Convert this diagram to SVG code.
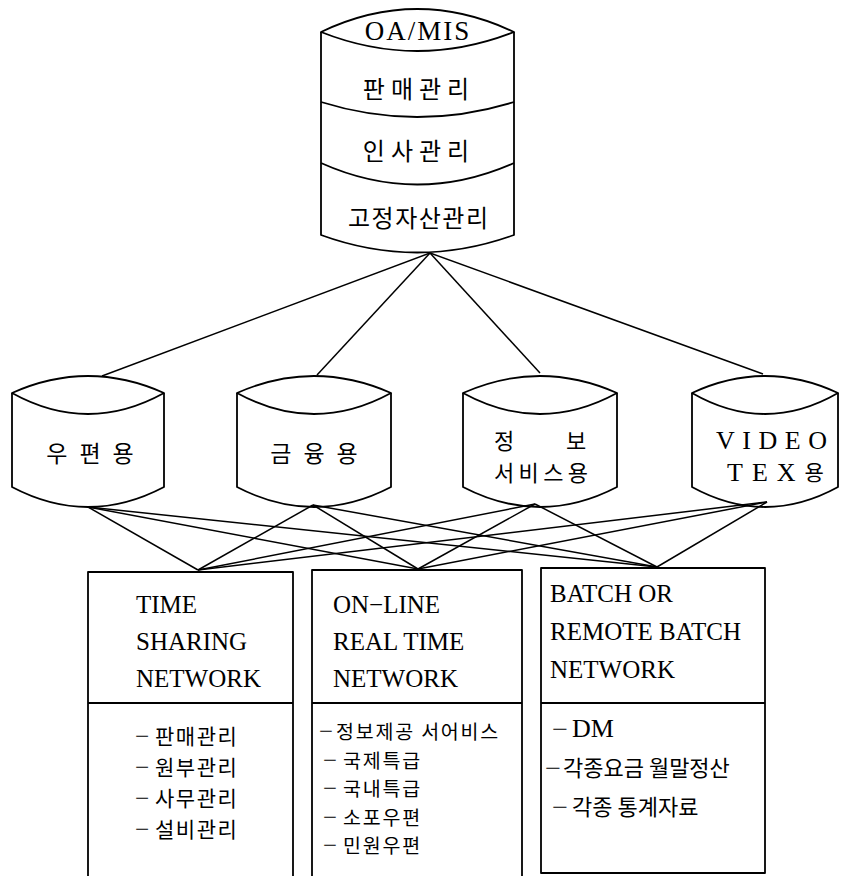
<svg xmlns="http://www.w3.org/2000/svg" width="841" height="876" viewBox="0 0 841 876">
<style>
.s{fill:none;stroke:#000;stroke-width:1.8;stroke-linejoin:round}
.c{fill:none;stroke:#000;stroke-width:1.5}
.t{font-family:"Liberation Serif","Noto Sans CJK KR",serif;fill:#000}
.k{font-family:"Noto Sans CJK KR","Liberation Serif",sans-serif;fill:#000}
.d{font-family:"Liberation Serif",serif;font-size:24px}
.m{text-anchor:middle}
</style>
<rect width="841" height="876" fill="#fff"/>
<g id="oa-mis">
<path class="s" d="M321,32 Q417,-14 514,32 Q417,70 321,32 Z"/>
<path class="s" d="M321,32 L321,235 Q417,270 514,235 L514,32"/>
<path class="s" d="M321,102 Q417,132 514,102"/>
<path class="s" d="M321,163 Q417,206 514,163"/>
<text class="t m" x="418" y="40" font-size="27" letter-spacing="2">OA/MIS</text>
<text class="k m" x="419" y="98" font-size="24" letter-spacing="6">판매관리</text>
<text class="k m" x="419" y="160" font-size="24" letter-spacing="6">인사관리</text>
<text class="k" x="348" y="227" font-size="24" textLength="140">고정자산관리</text>
</g>
<g id="postal">
<path class="s" d="M12,393 Q88,359 164,393 Q88,435 12,393 Z"/>
<path class="s" d="M12,393 L12,487 Q88,527 164,487 L164,393"/>
<text class="k m" x="96" y="462" font-size="23" letter-spacing="12">우편용</text>
</g>
<g id="finance">
<path class="s" d="M237,393 Q314,359 391,393 Q314,435 237,393 Z"/>
<path class="s" d="M237,393 L237,487 Q314,527 391,487 L391,393"/>
<text class="k m" x="320" y="462" font-size="23" letter-spacing="12">금융용</text>
</g>
<g id="info">
<path class="s" d="M463,393 Q540,359 617,393 Q540,435 463,393 Z"/>
<path class="s" d="M463,393 L463,487 Q540,527 617,487 L617,393"/>
<text class="k" font-size="22"><tspan x="494" y="449">정</tspan><tspan x="566" y="449">보</tspan><tspan x="494" y="481" textLength="94">서비스용</tspan></text>
</g>
<g id="videotex">
<path class="s" d="M692,393 Q765,359 838,393 Q765,435 692,393 Z"/>
<path class="s" d="M692,393 L692,487 Q765,527 838,487 L838,393"/>
<text class="t" font-size="26"><tspan x="716" y="449" textLength="111">VIDEO</tspan><tspan x="727" y="481" letter-spacing="9">TEX</tspan><tspan class="k" font-size="21" dy="-1">용</tspan></text>
</g>
<g id="connectors">
<line class="c" x1="430" y1="253" x2="102" y2="376"/>
<line class="c" x1="430" y1="253" x2="317" y2="375"/>
<line class="c" x1="430" y1="253" x2="540" y2="373"/>
<line class="c" x1="430" y1="253" x2="763" y2="374"/>
<line class="c" x1="88" y1="507" x2="198" y2="570"/>
<line class="c" x1="88" y1="507" x2="418" y2="569"/>
<line class="c" x1="88" y1="507" x2="657" y2="567"/>
<line class="c" x1="313" y1="505" x2="198" y2="570"/>
<line class="c" x1="313" y1="505" x2="418" y2="569"/>
<line class="c" x1="313" y1="505" x2="657" y2="567"/>
<line class="c" x1="535" y1="504" x2="198" y2="570"/>
<line class="c" x1="535" y1="504" x2="418" y2="569"/>
<line class="c" x1="535" y1="504" x2="657" y2="567"/>
<line class="c" x1="767" y1="502" x2="198" y2="570"/>
<line class="c" x1="767" y1="502" x2="418" y2="569"/>
<line class="c" x1="767" y1="502" x2="657" y2="567"/>
</g>
<g id="time-sharing">
<path class="s" d="M88,880 L88,572 L293,572 L293,880"/>
<line class="s" x1="88" y1="703" x2="293" y2="703"/>
<text class="t" x="136" y="613" font-size="25">TIME</text>
<text class="t" x="136" y="650" font-size="25">SHARING</text>
<text class="t" x="136" y="687" font-size="25">NETWORK</text>
<text class="k" x="135" y="744" font-size="21" letter-spacing="1.5"><tspan class="d" textLength="16" lengthAdjust="spacingAndGlyphs">−</tspan><tspan dx="4">판매관리</tspan></text>
<text class="k" x="135" y="775" font-size="21" letter-spacing="1.5"><tspan class="d" textLength="16" lengthAdjust="spacingAndGlyphs">−</tspan><tspan dx="4">원부관리</tspan></text>
<text class="k" x="135" y="806" font-size="21" letter-spacing="1.5"><tspan class="d" textLength="16" lengthAdjust="spacingAndGlyphs">−</tspan><tspan dx="4">사무관리</tspan></text>
<text class="k" x="135" y="837" font-size="21" letter-spacing="1.5"><tspan class="d" textLength="16" lengthAdjust="spacingAndGlyphs">−</tspan><tspan dx="4">설비관리</tspan></text>
</g>
<g id="online">
<path class="s" d="M312,880 L312,570 L522,570 L522,880"/>
<line class="s" x1="312" y1="703" x2="522" y2="703"/>
<text class="t" x="333" y="613" font-size="25">ON−LINE</text>
<text class="t" x="333" y="650" font-size="25">REAL TIME</text>
<text class="t" x="333" y="687" font-size="25">NETWORK</text>
<text class="k" x="319" y="739" font-size="19.5" letter-spacing="1.8"><tspan class="d" font-size="22" textLength="16" lengthAdjust="spacingAndGlyphs">−</tspan><tspan dx="1">정보제공 서어비스</tspan></text>
<text class="k" x="323" y="767.5" font-size="19.5" letter-spacing="1.8"><tspan class="d" font-size="22" textLength="16" lengthAdjust="spacingAndGlyphs">−</tspan><tspan dx="4">국제특급</tspan></text>
<text class="k" x="323" y="796" font-size="19.5" letter-spacing="1.8"><tspan class="d" font-size="22" textLength="16" lengthAdjust="spacingAndGlyphs">−</tspan><tspan dx="4">국내특급</tspan></text>
<text class="k" x="323" y="824.5" font-size="19.5" letter-spacing="1.8"><tspan class="d" font-size="22" textLength="16" lengthAdjust="spacingAndGlyphs">−</tspan><tspan dx="4">소포우편</tspan></text>
<text class="k" x="323" y="853" font-size="19.5" letter-spacing="1.8"><tspan class="d" font-size="22" textLength="16" lengthAdjust="spacingAndGlyphs">−</tspan><tspan dx="4">민원우편</tspan></text>
</g>
<g id="batch">
<path class="s" d="M541,568 L765,568 L765,873 L541,873 Z"/>
<line class="s" x1="541" y1="703" x2="765" y2="703"/>
<text class="t" x="550" y="602" font-size="25">BATCH OR</text>
<text class="t" x="550" y="640" font-size="25">REMOTE BATCH</text>
<text class="t" x="550" y="678" font-size="25">NETWORK</text>
<text class="t" x="552" y="737" font-size="26"><tspan class="d" textLength="16" lengthAdjust="spacingAndGlyphs">−</tspan><tspan dx="4">DM</tspan></text>
<text class="k" x="545" y="776" font-size="22"><tspan class="d" textLength="16" lengthAdjust="spacingAndGlyphs">−</tspan><tspan dx="2">각종요금 월말정산</tspan></text>
<text class="k" x="552" y="815" font-size="22"><tspan class="d" textLength="16" lengthAdjust="spacingAndGlyphs">−</tspan><tspan dx="4">각종 통계자료</tspan></text>
</g>
</svg>
